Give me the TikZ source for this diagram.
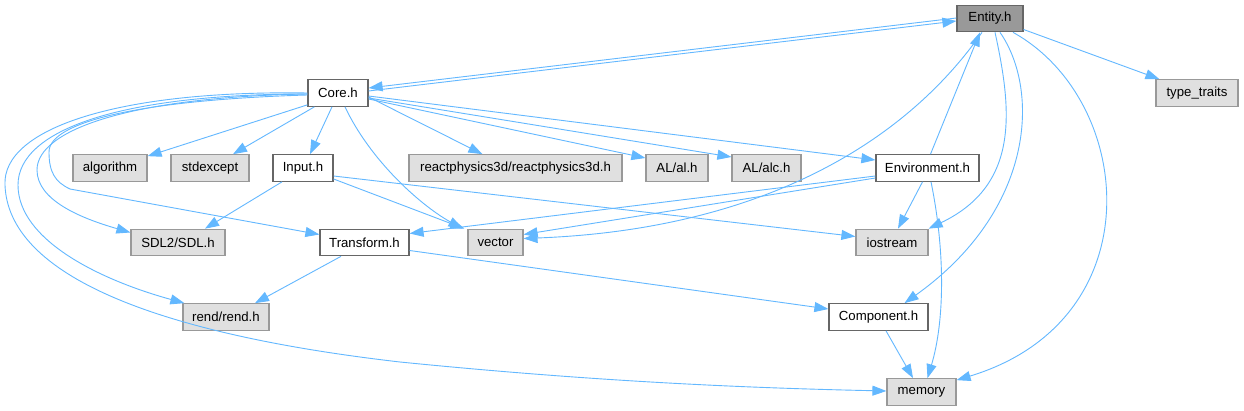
\documentclass[tikz,border=0pt]{standalone}
\usepackage{fontspec}
\setmainfont{Liberation Sans}
\usetikzlibrary{arrows.meta,calc}
\definecolor{edgecol}{RGB}{99,184,255}
\definecolor{extfill}{RGB}{224,224,224}
\definecolor{extdraw}{RGB}{153,153,153}
\definecolor{intdraw}{RGB}{102,102,102}
\definecolor{rootfill}{RGB}{153,153,153}
\begin{document}
\begin{tikzpicture}[x=1pt,y=-1pt,
  box/.style={draw=intdraw, fill=white, line width=1.2pt, inner sep=0pt,
    minimum height=26.5pt, font=\fontsize{13.2}{15}\selectfont},
  ext/.style={box, draw=extdraw, fill=extfill},
  root/.style={box, draw=intdraw, fill=rootfill},
  edge/.style={draw=edgecol, line width=0.9pt, -{Triangle[length=14pt,width=10pt]}}]
\fill[white] (0,0) rectangle (1244,411);
\useasboundingbox (0,0) rectangle (1244,411);
% nodes
\node[root, minimum width=66pt] (entity) at (990,18.5) {Entity.h};
\node[box, minimum width=60pt] (core) at (338,93) {Core.h};
\node[ext, minimum width=82pt] (typetraits) at (1197,93) {type\_traits};
\node[ext, minimum width=74pt] (algorithm) at (110,168) {algorithm};
\node[ext, minimum width=78pt] (stdexcept) at (210,168) {stdexcept};
\node[box, minimum width=60pt] (input) at (303,168) {Input.h};
\node[ext, minimum width=213pt] (react) at (515.5,168) {reactphysics3d/reactphysics3d.h};
\node[ext, minimum width=62pt] (al) at (677,168) {AL/al.h};
\node[ext, minimum width=69pt] (alc) at (766.5,168) {AL/alc.h};
\node[box, minimum width=103pt] (env) at (927.5,168) {Environment.h};
\node[ext, minimum width=94pt] (sdl) at (178,242.5) {SDL2/SDL.h};
\node[box, minimum width=89pt] (transform) at (364.5,242.5) {Transform.h};
\node[ext, minimum width=55pt] (vector) at (495.5,242.5) {vector};
\node[ext, minimum width=72pt] (iostream) at (892,242.5) {iostream};
\node[ext, minimum width=86pt] (rend) at (226,317) {rend/rend.h};
\node[box, minimum width=99pt] (component) at (878.5,317) {Component.h};
\node[ext, minimum width=69pt] (memory) at (921.5,392) {memory};
% edges
\draw[edge] ($(core.east)+(0,-2)$) -- ($(entity.west)+(0,2.5)$);
\draw[edge] ($(entity.west)+(0,-0.5)$) -- ($(core.east)+(0,-5)$);
\draw[edge] ($(entity.east)+(0,11)$) -- ($(typetraits.north west)+(4,0)$);
\draw[edge] ($(entity.south)+(5,0)$) .. controls (1012,110) and (1020,185) .. (iostream.north east);
\draw[edge] ($(entity.south)+(10,0)$) .. controls (1040,90) and (1035,210) .. ($(component.north)+(26,0)$);
\draw[edge] ($(entity.south)+(23,0)$) .. controls (1135,100) and (1155,320) .. ($(memory.north east)+(0,2)$);
\draw[edge] ($(env.north)+(3,0)$) -- ($(entity.south)+(-10,0)$);
\draw[edge] ($(entity.south)+(-8,0)$) .. controls (900,150) and (750,230) .. ($(vector.east)+(0,-4)$);
\draw[edge] ($(env.west)+(0,8)$) -- ($(transform.east)+(0,-9)$);
\draw[edge] ($(env.west)+(0,10)$) -- ($(vector.east)+(0,-8)$);
\draw[edge] ($(env.south)+(-5,0)$) -- ($(iostream.north)+(6,0)$);
\draw[edge] ($(env.south)+(3.5,0)$) .. controls (945,250) and (945,320) .. ($(memory.north)+(6,0)$);
\draw[edge] ($(component.south)+(7.5,0)$) -- ($(memory.north)+(-8.5,0)$);
\draw[edge] ($(transform.south)+(-23.5,0)$) -- ($(rend.north)+(29,0)$);
\draw[edge] ($(transform.east)+(0,8)$) -- ($(component.west)+(0,-8)$);
\draw[edge] ($(input.south)+(-21,0)$) -- ($(sdl.north)+(27,0)$);
\draw[edge] ($(input.east)+(0,11)$) -- ($(vector.north west)+(-3,0)$);
\draw[edge] ($(input.east)+(0,8)$) -- ($(iostream.west)+(0,-6)$);
\draw[edge] ($(core.south west)+(0,-2)$) -- ($(algorithm.north east)+(0,2)$);
\draw[edge] ($(core.south west)+(7,0)$) -- ($(stdexcept.north)+(23,0)$);
\draw[edge] ($(core.south)+(-6,0)$) -- ($(input.north)+(7,0)$);
\draw[edge] ($(core.south)+(7,0)$) .. controls (370,160) and (420,205) .. ($(vector.north west)+(-5,0)$);
\draw[edge] ($(core.east)+(0,4)$) -- ($(react.north west)+(74,0)$);
\draw[edge] ($(core.east)+(0,6)$) -- ($(al.west)+(0,-10)$);
\draw[edge] ($(core.east)+(0,5)$) -- ($(alc.west)+(0,-11)$);
\draw[edge] ($(core.east)+(0,3)$) -- ($(env.west)+(0,-8)$);
\draw[edge] ($(core.west)+(0,1)$) .. controls (130,97) and (37,130) .. (37,170) .. controls (37,200) and (80,218) .. ($(sdl.west)+(0,-10)$);
\draw[edge] ($(core.west)+(0,2)$) .. controls (140,100) and (49,122) .. (49,152) .. controls (49,172) and (55,182) .. (70,189) -- ($(transform.west)+(0,-8)$);
\draw[edge] ($(core.west)+(0,1)$) .. controls (120,94) and (18,130) .. (18,185) .. controls (18,240) and (100,280) .. ($(rend.north west)+(2,0)$);
\draw[edge] ($(core.west)+(0,0)$) .. controls (120,90) and (2,128) .. (5,185) .. controls (8,270) and (140,332) .. (400,362) .. controls (600,382) and (750,388) .. ($(memory.west)+(0,-1)$);
\end{tikzpicture}
\end{document}
